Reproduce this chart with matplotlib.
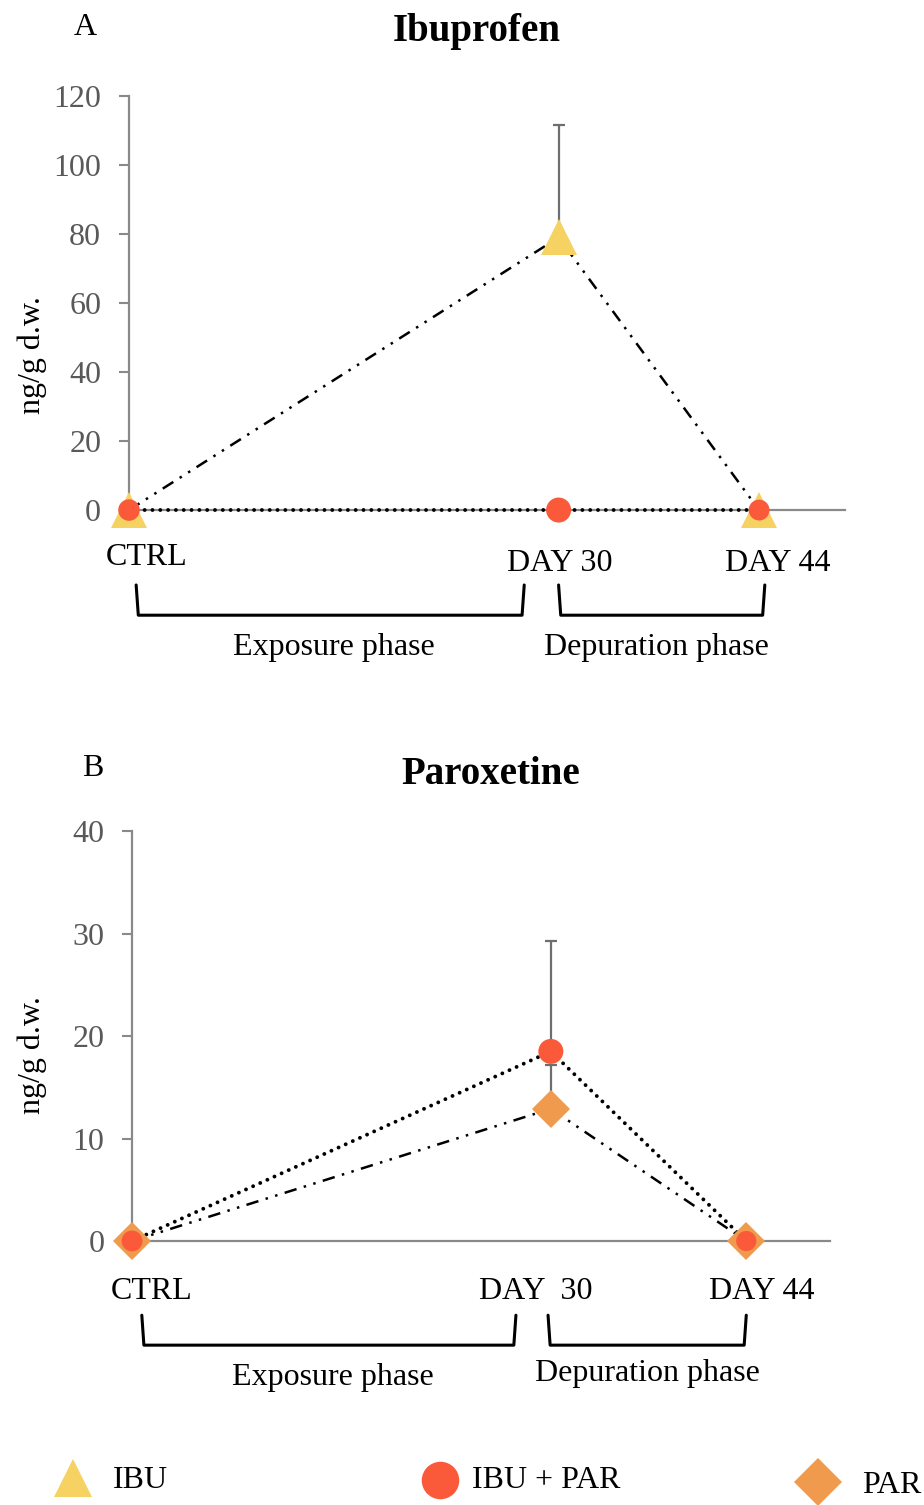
import matplotlib
matplotlib.use("Agg")
import matplotlib.pyplot as plt
import matplotlib.transforms as mtransforms

plt.rcParams['font.family'] = ['Liberation Serif', 'DejaVu Serif']

# ---------------- data ----------------
days = [0, 30, 44]
day_labels = ["CTRL", "DAY 30", "DAY 44"]
day_labels_b = ["CTRL", "DAY  30", "DAY 44"]

# Panel A: Ibuprofen (ng/g d.w.)
ibu_a = [0, 79, 0]
ibu_a_err = [0, 32.5, 0]
ibupar_a = [0, 0, 0]

# Panel B: Paroxetine (ng/g d.w.)
par_b = [0, 12.9, 0]
par_b_err = [0, 4.3, 0]
ibupar_b = [0, 18.5, 0]
ibupar_b_err = [0, 10.8, 0]

yticks_a = [0, 20, 40, 60, 80, 100, 120]
yticks_b = [0, 10, 20, 30, 40]

phases = ["Exposure phase", "Depuration phase"]
series_names = ["IBU", "IBU + PAR", "PAR"]

# ---------------- style ----------------
C_IBU = '#F5D262'
C_IBUPAR = '#FB5A3A'
C_PAR = '#EF9A4C'
AX_GREY = '#898989'
TICK_GREY = '#595959'
ERR_GREY = '#6E6E6E'
DASHDOTDOT = (0, (5, 3, 1, 3, 1, 3))
DOTTED = (0, (0.01, 2.0))
FS = 23

fig = plt.figure(figsize=(9.24, 15.05), dpi=100)

ax_a = fig.add_axes([0.1396, 0.6611, 0.7749, 0.2751])
ax_b = fig.add_axes([0.1429, 0.1754, 0.7554, 0.2724])


def style_axes(ax, ylim, yticks):
    ax.set_xlim(0, 50)
    ax.set_ylim(*ylim)
    ax.set_yticks(yticks)
    ax.set_xticks([])
    for s in ['top', 'right']:
        ax.spines[s].set_visible(False)
    for s in ['left', 'bottom']:
        ax.spines[s].set_color(AX_GREY)
        ax.spines[s].set_linewidth(1.6)
    ax.tick_params(axis='y', length=7, width=1.5, color=AX_GREY,
                   labelcolor=TICK_GREY, labelsize=FS, pad=13)
    ax.patch.set_alpha(0)


def brackets(ax, spans, label_x, label_y):
    tr = mtransforms.blended_transform_factory(ax.transData, ax.transAxes)
    for (x0, x1) in spans:
        ax.plot([x0, x0 + 0.15, x1 - 0.15, x1], [-0.181, -0.254, -0.254, -0.181],
                color='black', lw=2.2, transform=tr, clip_on=False,
                solid_joinstyle='round', solid_capstyle='round')
    for txt, lx, ly in zip(phases, label_x, label_y):
        ax.text(lx, ly, txt, transform=tr, ha='center', va='center',
                fontsize=FS, color='black')


def day_text(ax, labels, xs, ys):
    tr = mtransforms.blended_transform_factory(ax.transData, ax.transAxes)
    for lab, x, y in zip(labels, xs, ys):
        ax.text(x, y, lab, transform=tr, ha='center', va='center',
                fontsize=FS, color='black')


# ---------------- Panel A ----------------
style_axes(ax_a, (0, 120), yticks_a)
ax_a.errorbar(days, ibu_a, yerr=[[0, 0, 0], ibu_a_err], fmt='none',
              ecolor=ERR_GREY, elinewidth=1.6, capsize=4.5, capthick=1.6,
              zorder=2, clip_on=False)
ax_a.plot(days, ibu_a, color='black', lw=1.8, linestyle=DASHDOTDOT,
          zorder=3, clip_on=False)
ax_a.plot(days, ibupar_a, color='black', lw=2.8, linestyle=DOTTED,
          dash_capstyle='round', zorder=3, clip_on=False)
ax_a.plot(days, ibu_a, linestyle='none', marker='^', ms=26, color=C_IBU,
          markeredgewidth=0, zorder=4, clip_on=False)
ax_a.scatter(days, ibupar_a, s=[15.5**2, 18**2, 15**2], color=C_IBUPAR,
             linewidths=0, zorder=5, clip_on=False)
ax_a.text(0.486, 1.157, "Ibuprofen", transform=ax_a.transAxes, ha='center',
          va='center', fontsize=28, fontweight='bold')
day_text(ax_a, day_labels, [1.2, 30.1, 45.3], [-0.1135, -0.128, -0.128])
brackets(ax_a, [(0.5, 27.6), (30.0, 44.4)], [14.3, 36.8], [-0.331, -0.333])

# ---------------- Panel B ----------------
style_axes(ax_b, (0, 40), yticks_b)
ax_b.errorbar(days, par_b, yerr=[[0, 0, 0], par_b_err], fmt='none',
              ecolor=ERR_GREY, elinewidth=1.6, capsize=4.5, capthick=1.6,
              zorder=2, clip_on=False)
ax_b.errorbar(days, ibupar_b, yerr=[[0, 0, 0], ibupar_b_err], fmt='none',
              ecolor=ERR_GREY, elinewidth=1.6, capsize=4.5, capthick=1.6,
              zorder=2, clip_on=False)
ax_b.plot(days, par_b, color='black', lw=1.8, linestyle=DASHDOTDOT,
          zorder=3, clip_on=False)
ax_b.plot(days, ibupar_b, color='black', lw=2.8, linestyle=DOTTED,
          dash_capstyle='round', zorder=3, clip_on=False)
ax_b.plot(days, par_b, linestyle='none', marker='D', ms=19.5, color=C_PAR,
          markeredgewidth=0, zorder=4, clip_on=False)
ax_b.scatter(days, ibupar_b, s=[15**2, 18**2, 14.5**2], color=C_IBUPAR,
             linewidths=0, zorder=5, clip_on=False)
ax_b.text(0.514, 1.137, "Paroxetine", transform=ax_b.transAxes, ha='center',
          va='center', fontsize=28, fontweight='bold')
day_text(ax_b, day_labels_b, [1.43, 28.9, 45.1], [-0.124, -0.124, -0.124])
brackets(ax_b, [(0.7, 27.5), (29.8, 44.0)], [14.4, 36.9], [-0.334, -0.324])

# ---------------- labels ----------------
fig.text(0.092, 0.982, "A", ha='center', va='center', fontsize=FS)
fig.text(0.1006, 0.4897, "B", ha='center', va='center', fontsize=FS)
fig.text(0.0346, 0.764, "ng/g d.w.", rotation=90, ha='center', va='center',
         fontsize=FS)
fig.text(0.0346, 0.299, "ng/g d.w.", rotation=90, ha='center', va='center',
         fontsize=FS)

# ---------------- legend ----------------
ax_leg = fig.add_axes([0, 0, 1, 1])
ax_leg.set_xlim(0, 1)
ax_leg.set_ylim(0, 1)
ax_leg.axis('off')
leg_markers = ['^', 'o', 'D']
leg_colors = [C_IBU, C_IBUPAR, C_PAR]
leg_sizes = [27, 27, 24]
leg_mx = [0.079, 0.476, 0.885]
leg_my = [0.018, 0.0166, 0.0153]
leg_tx = [0.1223, 0.5108, 0.9329]
leg_ty = [0.0166, 0.0166, 0.013]
for name, m, c, s, mx, my, tx, ty in zip(series_names, leg_markers, leg_colors,
                                          leg_sizes, leg_mx, leg_my, leg_tx, leg_ty):
    ax_leg.plot([mx], [my], marker=m, ms=s, color=c, markeredgewidth=0,
                linestyle='none', clip_on=False)
    ax_leg.text(tx, ty, name, ha='left', va='center', fontsize=FS)

fig.savefig("out.png", dpi=100)
